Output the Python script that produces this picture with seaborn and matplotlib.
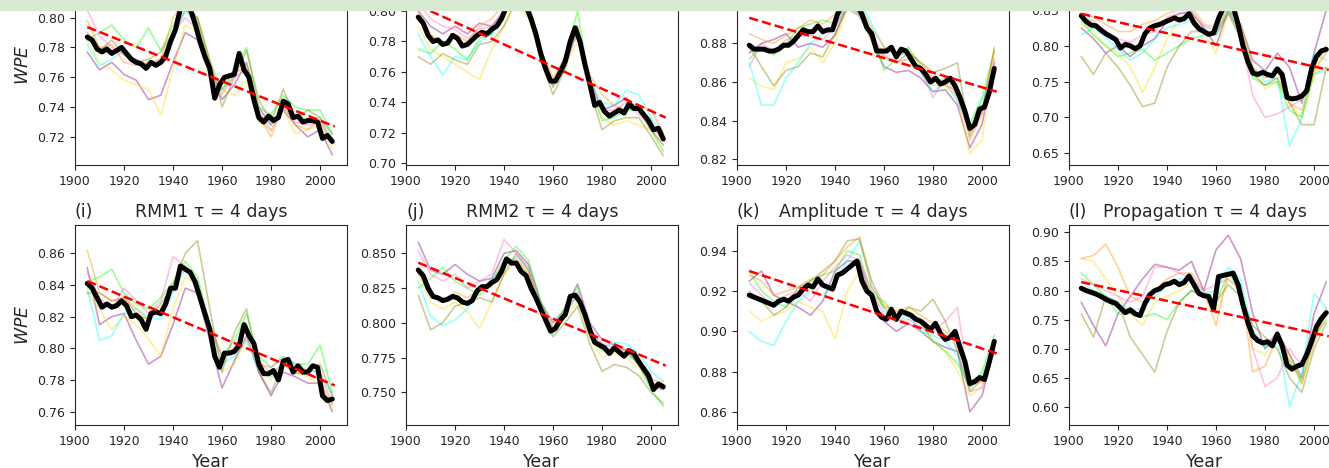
import numpy as np
import matplotlib.pyplot as plt
import seaborn as sns
from matplotlib.patches import Rectangle

sns.set_style("ticks")

# time axes: ensemble mean every 2 years, members every 5 years
year_black = np.arange(1905, 2006, 2)
year_member = np.arange(1905, 2006, 5)
trend_years = [1905, 2006]
member_colors = ["purple", "gold", "cyan", "lime", "olive", "darkorange", "hotpink"]

# ---- top row (cut off at the top) ----
black_a = [0.787, 0.785, 0.779, 0.777, 0.779, 0.776, 0.778, 0.780, 0.776, 0.772,
           0.770, 0.769, 0.766, 0.770, 0.768, 0.770, 0.774, 0.784, 0.792, 0.806,
           0.808, 0.806, 0.796, 0.784, 0.774, 0.766, 0.746, 0.755, 0.760, 0.761,
           0.762, 0.776, 0.765, 0.760, 0.745, 0.733, 0.730, 0.734, 0.731, 0.733,
           0.744, 0.742, 0.733, 0.734, 0.730, 0.731, 0.731, 0.730, 0.719, 0.721, 0.717]
trend_a = [0.7937, 0.7270]
members_a = [
    [.777, .765, .770, .762, .758, .745, .748, .770, .790, .785, .762, .745, .755, .770, .740, .728, .738, .728, .720, .725, .708],
    [.785, .770, .765, .758, .755, .752, .735, .765, .795, .790, .760, .752, .748, .758, .730, .725, .738, .722, .725, .728, .712],
    [.782, .768, .772, .778, .772, .768, .772, .785, .805, .795, .765, .750, .765, .765, .735, .728, .742, .735, .732, .733, .718],
    [.785, .790, .795, .785, .780, .793, .778, .795, .810, .800, .770, .752, .765, .780, .740, .735, .748, .740, .738, .738, .722],
    [.790, .778, .785, .775, .770, .772, .777, .790, .805, .800, .772, .740, .760, .778, .745, .730, .752, .732, .738, .733, .722],
    [.798, .780, .782, .770, .768, .770, .772, .800, .812, .798, .768, .748, .762, .768, .735, .720, .742, .728, .725, .732, .715],
    [.805, .788, .780, .775, .772, .768, .770, .790, .800, .792, .764, .752, .760, .765, .738, .724, .740, .730, .728, .730, .716],
]

black_b = [0.796, 0.792, 0.784, 0.780, 0.781, 0.778, 0.779, 0.784, 0.782, 0.777,
           0.778, 0.781, 0.784, 0.786, 0.785, 0.788, 0.790, 0.795, 0.803, 0.808,
           0.812, 0.808, 0.803, 0.795, 0.785, 0.772, 0.762, 0.754, 0.754, 0.760,
           0.767, 0.780, 0.789, 0.780, 0.765, 0.752, 0.738, 0.740, 0.734, 0.731,
           0.733, 0.735, 0.733, 0.739, 0.736, 0.736, 0.732, 0.728, 0.722, 0.723, 0.716]
trend_b = [0.8036, 0.7300]
members_b = [
    [.800, .790, .785, .790, .785, .792, .790, .800, .815, .805, .775, .752, .768, .788, .755, .735, .738, .743, .735, .722, .712],
    [.790, .775, .770, .765, .760, .755, .775, .790, .805, .795, .770, .750, .765, .780, .750, .730, .725, .728, .725, .722, .712],
    [.785, .770, .758, .770, .768, .780, .785, .800, .812, .800, .772, .750, .768, .785, .755, .740, .738, .748, .745, .730, .718],
    [.775, .772, .780, .775, .768, .782, .785, .798, .810, .800, .774, .752, .770, .800, .752, .728, .730, .735, .735, .722, .708],
    [.770, .765, .772, .768, .765, .778, .780, .790, .808, .798, .768, .745, .762, .790, .748, .722, .728, .730, .730, .718, .705],
    [.800, .785, .778, .785, .780, .790, .795, .805, .818, .805, .775, .756, .770, .790, .758, .745, .738, .735, .738, .735, .720],
    [.805, .795, .790, .788, .782, .788, .790, .800, .812, .802, .772, .750, .766, .785, .752, .735, .735, .740, .732, .725, .715],
]

black_c = [0.879, 0.877, 0.877, 0.877, 0.876, 0.876, 0.877, 0.879, 0.879, 0.881,
           0.884, 0.887, 0.886, 0.886, 0.889, 0.886, 0.887, 0.887, 0.895, 0.900,
           0.903, 0.902, 0.900, 0.895, 0.888, 0.885, 0.876, 0.876, 0.876, 0.878,
           0.873, 0.877, 0.876, 0.872, 0.868, 0.867, 0.864, 0.860, 0.862, 0.859,
           0.860, 0.862, 0.858, 0.852, 0.845, 0.836, 0.838, 0.846, 0.847, 0.855, 0.867]
trend_c = [0.8932, 0.8550]
members_c = [
    [.875, .880, .882, .885, .878, .880, .878, .884, .900, .895, .882, .868, .865, .866, .862, .855, .856, .848, .826, .838, .870],
    [.862, .858, .856, .870, .872, .878, .870, .880, .898, .896, .880, .872, .870, .872, .866, .858, .858, .852, .823, .830, .872],
    [.870, .848, .848, .862, .870, .880, .885, .888, .900, .902, .890, .878, .875, .874, .865, .855, .860, .850, .835, .850, .868],
    [.872, .878, .874, .880, .888, .890, .892, .890, .902, .900, .885, .866, .872, .878, .868, .860, .862, .856, .838, .852, .876],
    [.878, .868, .858, .866, .868, .875, .873, .885, .898, .894, .882, .873, .870, .875, .870, .865, .867, .870, .832, .845, .877],
    [.885, .882, .880, .884, .888, .892, .890, .895, .905, .900, .888, .878, .874, .876, .870, .862, .858, .856, .830, .843, .878],
    [.868, .880, .876, .882, .884, .884, .882, .888, .900, .896, .884, .874, .870, .872, .866, .852, .862, .852, .834, .845, .872],
]

black_d = [0.842, 0.834, 0.829, 0.828, 0.822, 0.817, 0.813, 0.809, 0.797, 0.802,
           0.800, 0.796, 0.800, 0.817, 0.825, 0.828, 0.830, 0.833, 0.836, 0.839,
           0.836, 0.838, 0.845, 0.832, 0.824, 0.820, 0.816, 0.818, 0.838, 0.853,
           0.856, 0.855, 0.830, 0.800, 0.778, 0.762, 0.760, 0.763, 0.760, 0.758,
           0.768, 0.760, 0.728, 0.726, 0.727, 0.730, 0.737, 0.768, 0.785, 0.793, 0.795]
trend_d = [0.8447, 0.7665]
members_d = [
    [.825, .810, .790, .800, .785, .800, .810, .835, .845, .848, .825, .800, .850, .830, .780, .765, .790, .770, .720, .790, .850],
    [.830, .820, .800, .790, .770, .735, .770, .810, .840, .845, .820, .790, .845, .825, .770, .740, .750, .720, .700, .760, .800],
    [.815, .825, .812, .795, .780, .790, .810, .825, .830, .835, .825, .815, .850, .820, .770, .750, .755, .660, .700, .790, .780],
    [.835, .815, .800, .785, .790, .795, .780, .790, .800, .810, .815, .820, .850, .815, .755, .745, .750, .710, .700, .760, .770],
    [.785, .760, .790, .770, .745, .715, .720, .770, .800, .820, .820, .815, .845, .810, .760, .745, .755, .720, .690, .690, .770],
    [.845, .840, .830, .820, .820, .830, .835, .845, .850, .855, .830, .825, .855, .830, .770, .755, .765, .720, .710, .765, .790],
    [.840, .835, .815, .810, .805, .815, .820, .840, .845, .845, .828, .820, .848, .815, .730, .700, .705, .715, .725, .780, .800],
]

# ---- bottom row: tau = 4 days ----
black_e = [0.841, 0.838, 0.832, 0.826, 0.828, 0.826, 0.827, 0.830, 0.827, 0.820,
           0.821, 0.818, 0.812, 0.822, 0.823, 0.822, 0.828, 0.838, 0.838, 0.852,
           0.850, 0.848, 0.842, 0.832, 0.822, 0.812, 0.795, 0.788, 0.797, 0.797,
           0.798, 0.802, 0.815, 0.808, 0.803, 0.790, 0.784, 0.784, 0.786, 0.780,
           0.792, 0.793, 0.785, 0.789, 0.785, 0.785, 0.789, 0.788, 0.770, 0.767, 0.768]
trend_e = [0.8425, 0.7766]
members_e = [
    [.851, .815, .820, .822, .805, .790, .795, .815, .838, .835, .805, .775, .792, .808, .785, .770, .785, .782, .778, .778, .760],
    [.835, .825, .812, .820, .815, .806, .795, .825, .845, .840, .810, .785, .790, .806, .788, .780, .790, .785, .782, .776, .762],
    [.838, .805, .808, .822, .825, .820, .818, .835, .850, .842, .812, .790, .795, .805, .786, .782, .792, .788, .786, .785, .770],
    [.842, .845, .850, .835, .828, .825, .832, .842, .855, .845, .815, .795, .805, .822, .795, .788, .795, .790, .790, .802, .772],
    [.835, .835, .830, .832, .822, .818, .828, .840, .860, .868, .825, .785, .810, .825, .785, .772, .790, .784, .786, .790, .770],
    [.862, .835, .830, .832, .825, .818, .825, .838, .852, .842, .812, .795, .798, .815, .792, .784, .790, .786, .784, .780, .764],
    [.848, .832, .825, .838, .830, .822, .830, .858, .852, .840, .815, .795, .800, .812, .790, .788, .794, .790, .786, .785, .765],
]

black_f = [0.838, 0.834, 0.825, 0.819, 0.818, 0.816, 0.817, 0.819, 0.818, 0.815,
           0.814, 0.816, 0.823, 0.826, 0.826, 0.829, 0.831, 0.837, 0.846, 0.843,
           0.843, 0.837, 0.834, 0.825, 0.818, 0.810, 0.802, 0.794, 0.796, 0.802,
           0.806, 0.819, 0.820, 0.815, 0.806, 0.795, 0.786, 0.784, 0.782, 0.778,
           0.782, 0.779, 0.776, 0.780, 0.778, 0.772, 0.767, 0.762, 0.752, 0.756, 0.754]
trend_f = [0.8433, 0.7692]
members_f = [
    [.858, .838, .835, .842, .835, .830, .832, .850, .852, .842, .815, .800, .810, .828, .800, .788, .784, .780, .770, .755, .752],
    [.835, .815, .810, .815, .808, .796, .815, .835, .845, .835, .810, .795, .805, .815, .790, .775, .778, .775, .768, .755, .758],
    [.830, .805, .798, .802, .810, .822, .832, .840, .848, .838, .812, .792, .806, .820, .795, .782, .786, .785, .778, .765, .758],
    [.825, .832, .840, .830, .825, .820, .830, .845, .855, .845, .815, .796, .812, .826, .790, .780, .780, .778, .770, .752, .740],
    [.820, .795, .800, .812, .815, .818, .815, .835, .850, .838, .808, .790, .800, .812, .785, .765, .770, .768, .762, .750, .742],
    [.840, .820, .815, .822, .818, .824, .826, .845, .846, .836, .812, .797, .808, .820, .793, .782, .780, .780, .775, .760, .756],
    [.852, .835, .830, .835, .825, .830, .835, .860, .850, .840, .812, .795, .806, .822, .796, .785, .782, .780, .772, .758, .752],
]

black_g = [0.918, 0.917, 0.916, 0.915, 0.914, 0.913, 0.915, 0.916, 0.915, 0.917,
           0.918, 0.921, 0.923, 0.922, 0.926, 0.923, 0.922, 0.921, 0.928, 0.929,
           0.931, 0.933, 0.935, 0.925, 0.920, 0.918, 0.910, 0.907, 0.906, 0.911,
           0.906, 0.910, 0.909, 0.908, 0.906, 0.905, 0.903, 0.901, 0.904, 0.899,
           0.896, 0.897, 0.900, 0.892, 0.885, 0.874, 0.875, 0.877, 0.876, 0.885, 0.895]
trend_g = [0.9300, 0.8890]
members_g = [
    [.925, .930, .918, .915, .912, .908, .915, .930, .935, .935, .915, .905, .900, .904, .900, .895, .892, .890, .860, .868, .892],
    [.910, .905, .908, .910, .915, .912, .910, .896, .920, .930, .918, .912, .910, .910, .905, .895, .890, .880, .868, .872, .895],
    [.900, .895, .893, .905, .915, .920, .918, .925, .935, .945, .925, .910, .905, .908, .900, .898, .895, .888, .872, .878, .892],
    [.930, .920, .915, .912, .918, .925, .928, .930, .940, .938, .918, .915, .908, .910, .904, .895, .890, .884, .872, .880, .898],
    [.920, .915, .908, .912, .922, .925, .930, .935, .945, .946, .922, .912, .905, .912, .910, .916, .905, .890, .870, .876, .895],
    [.928, .925, .918, .920, .922, .926, .928, .935, .942, .947, .925, .913, .910, .912, .908, .904, .900, .895, .873, .875, .893],
    [.924, .918, .912, .918, .920, .915, .925, .932, .938, .935, .920, .908, .905, .906, .902, .900, .905, .912, .870, .872, .890],
]

black_h = [0.804, 0.800, 0.797, 0.794, 0.790, 0.785, 0.781, 0.778, 0.770, 0.762,
           0.767, 0.760, 0.757, 0.778, 0.793, 0.800, 0.803, 0.810, 0.812, 0.816,
           0.810, 0.814, 0.825, 0.810, 0.795, 0.791, 0.790, 0.768, 0.824, 0.826,
           0.828, 0.830, 0.810, 0.775, 0.745, 0.722, 0.714, 0.710, 0.712, 0.705,
           0.725, 0.705, 0.672, 0.665, 0.670, 0.673, 0.690, 0.712, 0.738, 0.752, 0.762]
trend_h = [0.8145, 0.7214]
members_h = [
    [.780, .740, .705, .760, .790, .820, .845, .840, .835, .850, .800, .870, .895, .855, .760, .700, .730, .690, .650, .760, .815],
    [.855, .850, .820, .790, .760, .740, .780, .790, .800, .815, .790, .760, .820, .800, .700, .690, .720, .680, .640, .720, .760],
    [.815, .800, .790, .780, .765, .770, .790, .810, .820, .820, .795, .800, .840, .820, .730, .700, .720, .600, .660, .795, .770],
    [.830, .810, .790, .760, .760, .755, .760, .750, .780, .800, .790, .780, .830, .800, .730, .705, .715, .680, .645, .720, .750],
    [.760, .720, .790, .780, .720, .690, .660, .730, .780, .800, .790, .780, .810, .790, .740, .720, .700, .650, .625, .700, .745],
    [.855, .860, .880, .840, .790, .780, .800, .820, .830, .830, .800, .740, .830, .810, .660, .670, .720, .690, .640, .710, .760],
    [.820, .810, .800, .790, .780, .790, .840, .840, .830, .820, .800, .810, .820, .800, .700, .635, .650, .700, .670, .720, .770],
]

blacks = [black_a, black_b, black_c, black_d, black_e, black_f, black_g, black_h]
trends = [trend_a, trend_b, trend_c, trend_d, trend_e, trend_f, trend_g, trend_h]
members = [members_a, members_b, members_c, members_d, members_e, members_f, members_g, members_h]
ylims = [(0.7012, 0.8353), (0.6989, 0.8302), (0.8171, 0.9205), (0.6337, 0.9128),
         (0.7516, 0.8779), (0.7265, 0.8704), (0.8534, 0.9529), (0.5690, 0.9126)]
letters = [None, None, None, None, "(i)", "(j)", "(k)", "(l)"]
names = [None, None, None, None, "RMM1", "RMM2", "Amplitude", "Propagation"]

W, H = 1329, 468
fig = plt.figure(figsize=(W / 100, H / 100), dpi=100)
lefts = [75, 406, 737, 1069]
tops = [-35, 225]   # top row runs off the top of the picture

for i in range(8):
    row, col = divmod(i, 4)
    ax = fig.add_axes([lefts[col] / W, (H - tops[row] - 200) / H, 272 / W, 200 / H])
    for vals, c in zip(members[i], member_colors):
        sns.lineplot(x=year_member, y=vals, ax=ax, color=c, lw=1.2, alpha=0.4)
    sns.lineplot(x=year_black, y=blacks[i], ax=ax, color="black", lw=3.6)
    sns.lineplot(x=trend_years, y=trends[i], ax=ax, color="red", lw=1.8, linestyle="--")
    ax.set_xlim(1900, 2011)
    ax.set_ylim(*ylims[i])
    ax.set_xticks(range(1900, 2001, 20))
    ax.tick_params(labelsize=9)
    if col == 0:
        ax.set_ylabel("$WPE$", fontsize=12.5)
    if row == 1:
        ax.set_xlabel("Year", fontsize=12.5)
        ax.set_title(letters[i], loc="left", fontsize=12.5)
        ax.set_title(names[i] + " τ = 4 days", fontsize=12.5)

# light green strip along the top edge
fig.add_artist(Rectangle((0, 1 - 10 / H), 1, 10 / H, transform=fig.transFigure,
                         color="#d9ead3", zorder=20))

fig.savefig("out.png", dpi=100)
